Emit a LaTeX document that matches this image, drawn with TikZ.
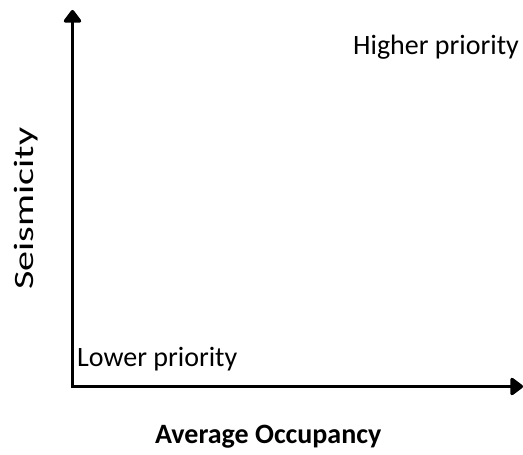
\documentclass[tikz,border=0pt]{standalone}
\usepackage{fontspec}
\setmainfont{Carlito}
\usepackage{tikz}
\usetikzlibrary{arrows.meta}

\begin{document}
\begin{tikzpicture}[x=1pt, y=1pt,
	axis/.style={line width=3.5pt, -{Triangle[width=20pt, length=14pt, round]}},
	lbl/.style={inner sep=0pt, font=\fontsize{28}{34}\selectfont},
	]
	\useasboundingbox (0,0) rectangle (523,455);
		%Nodes
    \coordinate (O)    at (72.5,68.5);
    \coordinate (Ytip) at (72.5,445);
    \coordinate (Xtip) at (523,68.5);
    \node[lbl, anchor=base west]            (HP)   at (353,400)   {Higher priority};
    \node[lbl, anchor=base west]            (LP)   at (77,88)     {Lower priority};
    \node[lbl, anchor=base west, font=\fontsize{28}{34}\selectfont\bfseries] (XL) at (155,11) {Average Occupancy};
    \node[lbl, anchor=base, rotate=90, xscale=1.43] (YL) at (33,246.5) {Seismicity};

		%Lines
		\draw[axis] (O) -- (Ytip);
		\draw[axis] ([xshift=-1.75pt]O) -- (Xtip);
	\end{tikzpicture}
\end{document}
